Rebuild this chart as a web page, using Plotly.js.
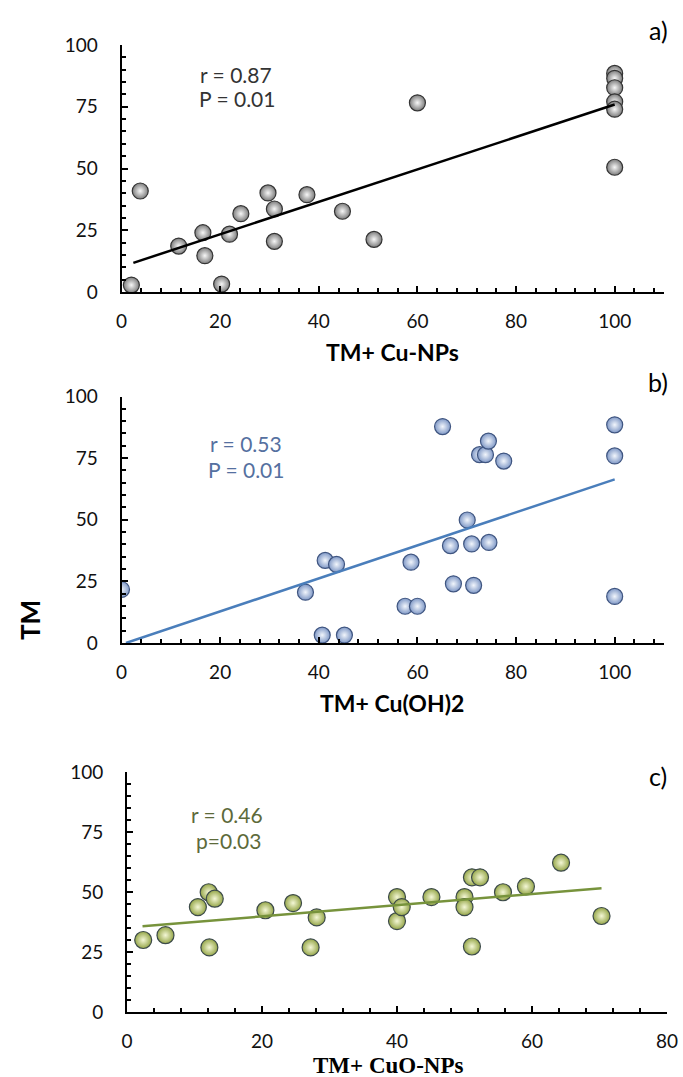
<!DOCTYPE html>
<html>
<head>
<meta charset="utf-8">
<script src="https://cdn.plot.ly/plotly-3.0.1.min.js"></script>
<style>html,body{margin:0;padding:0;background:#fff;}#chart{width:683px;height:1077px;}</style>
</head>
<body>
<div id="chart"></div>
<script>
// Panel a) TM vs TM+ Cu-NPs
var aX = [2.0, 3.8, 11.6, 16.5, 16.9, 20.3, 21.9, 24.2, 29.7, 31.0, 31.0, 37.6, 44.8, 51.2, 60.0, 100, 100, 100, 100, 100, 100];
var aY = [2.8, 40.9, 18.6, 24.0, 14.7, 3.2, 23.4, 31.7, 40.1, 33.6, 20.5, 39.4, 32.7, 21.3, 76.6, 88.5, 86.5, 82.7, 77.0, 74.0, 50.5];
var aTrendX = [2.4, 100];
var aTrendY = [11.8, 75.9];

// Panel b) TM vs TM+ Cu(OH)2
var bX = [0, 37.3, 40.7, 41.3, 43.6, 45.2, 57.5, 60.0, 58.7, 65.1, 66.7, 67.3, 70.1, 71.0, 71.4, 72.6, 73.8, 74.4, 74.5, 77.5, 100, 100, 100];
var bY = [21.7, 20.6, 3.2, 33.5, 31.9, 3.2, 14.9, 14.9, 32.8, 87.8, 39.5, 24.0, 49.9, 40.2, 23.4, 76.4, 76.4, 81.9, 40.8, 73.8, 88.5, 75.9, 18.9];
var bTrendX = [0.9, 100];
var bTrendY = [0, 66.4];

// Panel c) TM vs TM+ CuO-NPs
var cX = [2.4, 5.7, 10.5, 12.1, 13.0, 12.2, 20.5, 24.6, 27.2, 28.1, 40.0, 40.0, 40.7, 45.1, 50.0, 50.0, 51.1, 51.1, 52.3, 55.7, 59.1, 64.3, 70.3];
var cY = [30.0, 32.0, 43.7, 49.9, 47.2, 26.9, 42.4, 45.4, 26.9, 39.4, 47.9, 37.9, 43.7, 47.9, 47.9, 43.7, 27.3, 56.1, 56.1, 49.9, 52.3, 62.2, 40.0];
var cTrendX = [2.3, 70.3];
var cTrendY = [35.7, 51.6];

var panelLabels = ['a)', 'b)', 'c)'];
var xTitles = ['TM+ Cu-NPs', 'TM+ Cu(OH)2', 'TM+ CuO-NPs'];
var yTitle = 'TM';
var statsA = ['r = 0.87', 'P = 0.01'];
var statsB = ['r = 0.53', 'P = 0.01'];
var statsC = ['r = 0.46', 'p=0.03'];

var W = 683, H = 1077;
function px(v){ return v / W; }
function py(v){ return 1 - v / H; }

function marker(edge, center, line, size){
  return {size: size, color: edge, gradient: {type: 'radial', color: center}, line: {color: line, width: 1.2}};
}

var traces = [
  {x: aX, y: aY, xaxis: 'x', yaxis: 'y', mode: 'markers', type: 'scatter', cliponaxis: false,
   marker: marker('#7c7c7c', '#f7f7f7', '#333333', 16)},
  {x: aTrendX, y: aTrendY, xaxis: 'x', yaxis: 'y', mode: 'lines', type: 'scatter', cliponaxis: false,
   line: {color: '#000000', width: 2.5}},
  {x: bX, y: bY, xaxis: 'x2', yaxis: 'y2', mode: 'markers', type: 'scatter', cliponaxis: true,
   marker: marker('#7f98c6', '#f2f6fc', '#3f5580', 16)},
  {x: bTrendX, y: bTrendY, xaxis: 'x2', yaxis: 'y2', mode: 'lines', type: 'scatter', cliponaxis: true,
   line: {color: '#4a7ebb', width: 2.5}},
  {x: cX, y: cY, xaxis: 'x3', yaxis: 'y3', mode: 'markers', type: 'scatter', cliponaxis: false,
   marker: marker('#95a648', '#f4f7d6', '#3c4a4a', 17)},
  {x: cTrendX, y: cTrendY, xaxis: 'x3', yaxis: 'y3', mode: 'lines', type: 'scatter', cliponaxis: false,
   line: {color: '#77933c', width: 2.5}}
];

var tickFont = {family: 'Lato, "Open Sans", sans-serif', size: 19, color: '#111'};

function xAxis(domain, anchor, range){
  return {domain: domain, anchor: anchor, range: range, tickmode: 'linear', tick0: 0, dtick: 20,
    showgrid: false, zeroline: false, showline: true, linecolor: '#000', linewidth: 2,
    ticks: 'inside', ticklen: 6, tickwidth: 2, tickcolor: '#000', ticklabelstandoff: 11,
    minor: {dtick: 4, tick0: 0, ticks: 'inside', ticklen: 4, tickwidth: 2, tickcolor: '#000', showgrid: false},
    tickfont: tickFont, fixedrange: true};
}
function yAxis(domain, anchor){
  return {domain: domain, anchor: anchor, range: [0, 100], tickmode: 'linear', tick0: 0, dtick: 25,
    showgrid: false, zeroline: false, showline: true, linecolor: '#000', linewidth: 2,
    ticks: 'inside', ticklen: 6, tickwidth: 2, tickcolor: '#000', ticklabelstandoff: 18,
    minor: {dtick: 5, tick0: 0, ticks: 'inside', ticklen: 4, tickwidth: 2, tickcolor: '#000', showgrid: false},
    tickfont: tickFont, fixedrange: true};
}

function pAnn(x, y, text, font, extra){
  var a = {xref: 'paper', yref: 'paper', x: px(x), y: py(y), text: text, showarrow: false,
    xanchor: 'center', yanchor: 'middle', font: font};
  if (extra) Object.assign(a, extra);
  return a;
}
function dAnn(xr, yr, x, y, text, color){
  return {xref: xr, yref: yr, x: x, y: y, text: text, showarrow: false, xanchor: 'center', yanchor: 'middle',
    font: {family: 'Lato, "Open Sans", sans-serif', size: 21, color: color}};
}

var labelFont = {family: 'Lato, sans-serif', size: 25, color: '#000'};
var titleFont = {family: 'Lato, sans-serif', size: 23, color: '#000'};
var annotations = [
  pAnn(658, 30, panelLabels[0], labelFont),
  pAnn(658, 382, panelLabels[1], labelFont),
  pAnn(658, 776, panelLabels[2], labelFont),
  pAnn(392, 352, '<b>' + xTitles[0] + '</b>', titleFont),
  pAnn(392, 703, '<b>' + xTitles[1] + '</b>', titleFont),
  pAnn(388, 1065, '<b>' + xTitles[2] + '</b>', {family: '"Liberation Serif", "DejaVu Serif", serif', size: 23, color: '#000'}),
  pAnn(30, 620, '<b>' + yTitle + '</b>', {family: 'Lato, sans-serif', size: 26, color: '#000'}, {textangle: -90}),
  dAnn('x', 'y', 23.3, 88, statsA[0], '#333'),
  dAnn('x', 'y', 23.5, 78.5, statsA[1], '#333'),
  dAnn('x2', 'y2', 25.2, 81, statsB[0], '#5570a0'),
  dAnn('x2', 'y2', 25.2, 70.5, statsB[1], '#5570a0'),
  dAnn('x3', 'y3', 14.8, 82.5, statsC[0], '#5d6a3a'),
  dAnn('x3', 'y3', 15.1, 71.5, statsC[1], '#5d6a3a')
];

var layout = {
  width: W, height: H,
  margin: {l: 0, r: 0, t: 0, b: 0},
  paper_bgcolor: '#fff', plot_bgcolor: '#fff',
  showlegend: false,
  xaxis: xAxis([px(121.5), px(664)], 'y', [0, 110]),
  yaxis: yAxis([py(292), py(45)], 'x'),
  xaxis2: xAxis([px(121.5), px(664)], 'y2', [0, 110]),
  yaxis2: yAxis([py(643), py(396.5)], 'x2'),
  xaxis3: xAxis([px(127), px(667)], 'y3', [0, 80]),
  yaxis3: yAxis([py(1012), py(772)], 'x3'),
  annotations: annotations
};

Plotly.newPlot('chart', traces, layout, {displayModeBar: false, staticPlot: true});
</script>
</body>
</html>
